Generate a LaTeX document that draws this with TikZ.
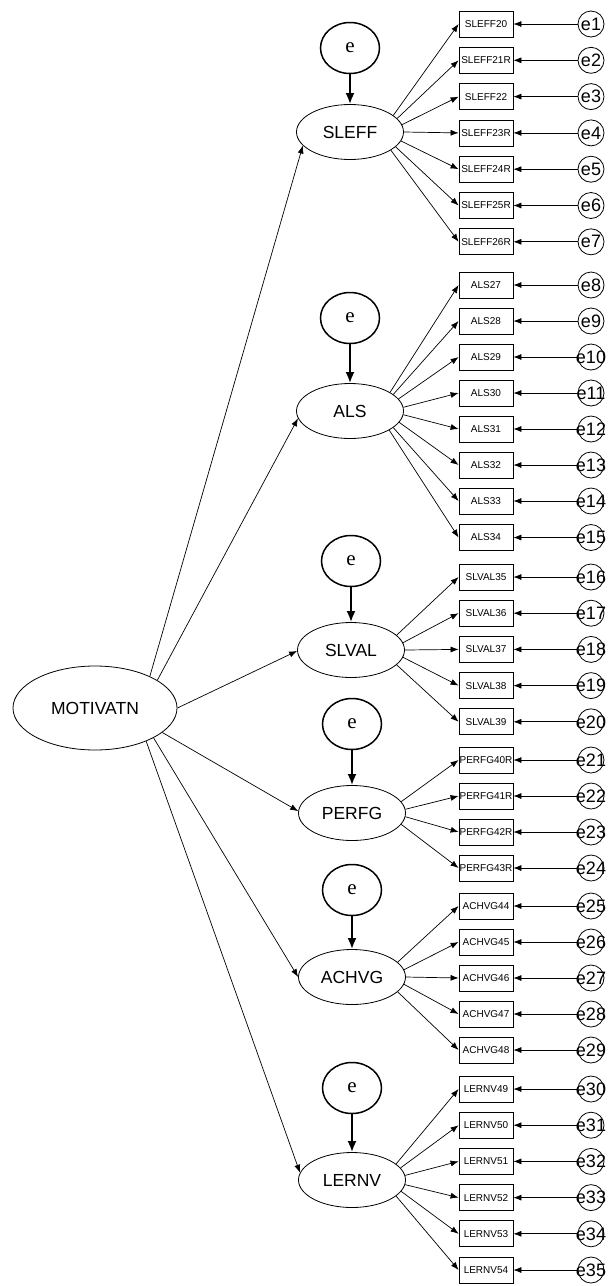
\documentclass[tikz,border=0pt]{standalone}
\usepackage{fontspec}
\setmainfont{Liberation Sans}
\newfontfamily\serifface{Liberation Serif}
\usetikzlibrary{shapes.geometric,arrows.meta}

\tikzset{
  latent/.style={ellipse, draw, line width=0.8pt, minimum width=107pt, minimum height=55pt,
    inner sep=0pt, font=\fontsize{17.5}{20}\selectfont},
  disturb/.style={ellipse, draw, line width=1.5pt, minimum width=59pt, minimum height=51pt,
    inner sep=0pt, font=\serifface\fontsize{21}{24}\selectfont},
  item/.style={rectangle, draw, line width=0.8pt, minimum width=54pt, minimum height=26pt,
    inner sep=0pt, font=\fontsize{10}{12}\selectfont},
  errc/.style={circle, draw, line width=0.8pt, minimum size=26pt, inner sep=0pt},
  errlab/.style={font=\fontsize{18}{20}\selectfont, inner sep=0pt},
  load/.style={draw, line width=0.7pt, -{Latex[length=8pt,width=6pt]}},
  heavy/.style={draw, line width=2pt, -{Latex[length=11pt,width=9pt]}},
}

\begin{document}
\begin{tikzpicture}[x=1pt, y=-1pt]
\useasboundingbox (0,0) rectangle (611,1286);

% second-order factor
\node[latent, minimum width=164pt, minimum height=84pt] (MOT) at (95,708) {MOTIVATN};

% first-order factors
\node[latent] (SLEFF) at (350,132)  {SLEFF};
\node[latent] (ALS)   at (350,411)  {ALS};
\node[latent] (SLVAL) at (351,650)  {SLVAL};
\node[latent] (PERFG) at (352,813)  {PERFG};
\node[latent] (ACHVG) at (352,977)  {ACHVG};
\node[latent] (LERNV) at (352,1180) {LERNV};

% disturbances of the first-order factors
\foreach \f/\yy in {SLEFF/48, ALS/318, SLVAL/561, PERFG/724, ACHVG/890, LERNV/1088}{
  \node[disturb] (d\f) at (\f.center |- 0,\yy) {e};
  \draw[heavy] (d\f.south) -- (\f.north);
}

% second-order loadings
\draw[load] (MOT.30)  -- (SLEFF.196);
\draw[load] (MOT.24)  -- (ALS.188);
\draw[load] (MOT.0)   -- (SLVAL.181);
\draw[load] (MOT.-20) -- (PERFG.178);
\draw[load] (MOT.-27) -- (ACHVG.180);
\draw[load] (MOT.-33) -- (LERNV.172);

% observed items, their error terms and loadings
\foreach \n/\lab/\yy/\f/\ang in {
  1/SLEFF20/24/SLEFF/21, 2/SLEFF21R/60.3/SLEFF/16, 3/SLEFF22/96.6/SLEFF/8,
  4/SLEFF23R/132.9/SLEFF/0, 5/SLEFF24R/169.2/SLEFF/-10, 6/SLEFF25R/205.5/SLEFF/-18,
  7/SLEFF26R/241.8/SLEFF/-24,
  8/ALS27/285/ALS/25, 9/ALS28/321/ALS/21, 10/ALS29/357/ALS/14, 11/ALS30/393/ALS/4,
  12/ALS31/429/ALS/-4, 13/ALS32/465/ALS/-13, 14/ALS33/501/ALS/-21, 15/ALS34/537.5/ALS/-26,
  16/SLVAL35/577/SLVAL/18, 17/SLVAL36/613.2/SLVAL/8, 18/SLVAL37/649.4/SLVAL/0,
  19/SLVAL38/685.6/SLVAL/-8, 20/SLVAL39/721.8/SLVAL/-18,
  21/PERFG40R/760/PERFG/13, 22/PERFG41R/796/PERFG/4.5, 23/PERFG42R/832/PERFG/-4.5,
  24/PERFG43R/868/PERFG/-13,
  25/ACHVG44/906/ACHVG/18, 26/ACHVG45/942/ACHVG/8, 27/ACHVG46/978/ACHVG/0,
  28/ACHVG47/1014/ACHVG/-8, 29/ACHVG48/1050/ACHVG/-18,
  30/LERNV49/1089/LERNV/20, 31/LERNV50/1125.2/LERNV/14, 32/LERNV51/1161.4/LERNV/5,
  33/LERNV52/1197.6/LERNV/-5, 34/LERNV53/1233.8/LERNV/-13, 35/LERNV54/1270/LERNV/-20}{
  \node[item] (b\n) at (486,\yy) {\lab};
  \node[errc, label={[errlab]center:e\n}] (err\n) at (591,\yy) {};
  \draw[load] (\f.\ang) -- (b\n.west);
  \draw[load] (err\n.west) -- (b\n.east);
}
\end{tikzpicture}
\end{document}
